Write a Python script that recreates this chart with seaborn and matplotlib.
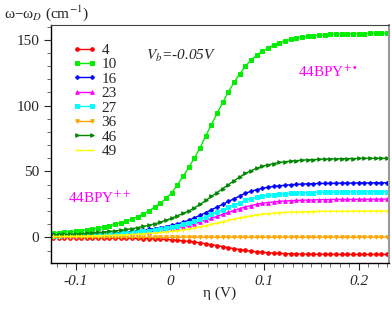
import numpy as np
import pandas as pd
import seaborn as sns
import matplotlib.pyplot as plt
from matplotlib.ticker import MultipleLocator

# overpotential (V)
eta = [-0.124, -0.118, -0.112, -0.106, -0.100, -0.094, -0.088, -0.082, -0.076, -0.070,
       -0.064, -0.058, -0.052, -0.046, -0.040, -0.034, -0.028, -0.022, -0.016, -0.010,
       -0.004, 0.002, 0.008, 0.014, 0.020, 0.026, 0.032, 0.038, 0.044, 0.050,
       0.056, 0.062, 0.068, 0.074, 0.080, 0.086, 0.092, 0.098, 0.104, 0.110,
       0.116, 0.122, 0.128, 0.134, 0.140, 0.146, 0.152, 0.158, 0.164, 0.170,
       0.176, 0.182, 0.188, 0.194, 0.200, 0.206, 0.212, 0.218, 0.224, 0.230]

# frequency shift omega - omega_D (cm^-1) for each mode
s4 = [-0.2, -0.2, -0.2, -0.2, -0.3, -0.3, -0.3, -0.4, -0.4, -0.4,
      -0.5, -0.5, -0.6, -0.6, -0.7, -0.8, -0.9, -1.1, -1.2, -1.4,
      -1.6, -1.9, -2.3, -2.7, -3.1, -3.6, -4.2, -4.9, -5.6, -6.3,
      -7.1, -7.8, -8.6, -9.3, -9.9, -10.5, -11.0, -11.4, -11.7, -12.0,
      -12.2, -12.3, -12.5, -12.6, -12.7, -12.8, -12.8, -12.9, -12.9, -12.9,
      -13.0, -13.0, -13.0, -13.0, -13.0, -13.0, -13.0, -13.0, -13.0, -13.0]
s10 = [3.3, 3.6, 3.9, 4.2, 4.5, 5.1, 5.7, 6.3, 7.1, 8.0,
       8.9, 9.9, 11.1, 12.5, 14.0, 15.8, 17.8, 20.2, 23.0, 26.0,
       29.5, 33.8, 40.0, 46.4, 53.0, 60.2, 68.0, 77.0, 85.6, 94.0,
       102.4, 110.4, 117.6, 124.0, 130.0, 134.5, 138.2, 141.2, 143.6, 146.0,
       147.8, 149.3, 150.2, 151.1, 152.0, 152.6, 153.1, 153.4, 153.7, 154.0,
       154.2, 154.3, 154.4, 154.5, 154.7, 154.7, 154.8, 154.9, 154.9, 155.0]
s16 = [1.4, 1.5, 1.7, 1.8, 1.9, 2.0, 2.2, 2.3, 2.6, 2.8,
       3.0, 3.3, 3.6, 4.0, 4.4, 4.9, 5.4, 6.0, 6.7, 7.4,
       8.2, 9.1, 10.2, 11.5, 13.0, 14.8, 16.7, 18.8, 20.9, 23.0,
       25.1, 27.2, 29.3, 31.4, 33.5, 34.9, 36.2, 37.2, 38.0, 38.6,
       39.1, 39.5, 39.9, 40.2, 40.4, 40.6, 40.7, 40.9, 40.9, 41.0,
       41.1, 41.1, 41.2, 41.2, 41.3, 41.3, 41.3, 41.4, 41.4, 41.4]
s23 = [0.9, 1.0, 1.1, 1.2, 1.3, 1.4, 1.5, 1.7, 1.8, 2.0,
       2.2, 2.4, 2.6, 2.9, 3.1, 3.5, 3.8, 4.3, 4.7, 5.2,
       5.8, 6.5, 7.2, 8.1, 9.1, 10.3, 11.6, 12.9, 14.4, 15.9,
       17.5, 19.0, 20.4, 21.8, 23.1, 24.1, 25.1, 25.8, 26.4, 26.9,
       27.3, 27.6, 27.8, 28.0, 28.2, 28.3, 28.4, 28.6, 28.6, 28.7,
       28.8, 28.8, 28.8, 28.8, 28.9, 28.9, 28.9, 29.0, 29.0, 29.0]
s27 = [1.1, 1.2, 1.4, 1.5, 1.6, 1.7, 1.8, 2.0, 2.2, 2.4,
       2.6, 2.9, 3.1, 3.4, 3.8, 4.2, 4.6, 5.1, 5.7, 6.3,
       7.0, 7.8, 8.7, 9.8, 11.0, 12.5, 14.0, 15.7, 17.5, 19.3,
       21.1, 22.9, 24.6, 26.3, 28.0, 29.2, 30.3, 31.2, 31.9, 32.4,
       32.8, 33.1, 33.4, 33.6, 33.8, 33.9, 34.0, 34.2, 34.2, 34.3,
       34.4, 34.4, 34.5, 34.5, 34.5, 34.6, 34.6, 34.6, 34.6, 34.6]
s36 = [0.0, 0.0, 0.0, 0.0, 0.0, 0.0, 0.0, 0.0, 0.0, 0.0,
       0.0, 0.0, 0.0, 0.0, 0.0, 0.0, 0.0, 0.0, 0.0, 0.0,
       0.0, 0.0, 0.0, 0.1, 0.1, 0.1, 0.1, 0.1, 0.1, 0.1,
       0.1, 0.1, 0.1, 0.1, 0.1, 0.1, 0.1, 0.1, 0.1, 0.1,
       0.1, 0.1, 0.1, 0.1, 0.1, 0.1, 0.1, 0.1, 0.1, 0.1,
       0.1, 0.1, 0.1, 0.1, 0.1, 0.1, 0.1, 0.1, 0.1, 0.1]
s46 = [1.9, 2.1, 2.2, 2.4, 2.6, 2.8, 3.1, 3.4, 3.7, 4.0,
       4.5, 4.9, 5.4, 6.0, 6.6, 7.4, 8.3, 9.2, 10.3, 11.5,
       13.0, 14.6, 16.4, 18.2, 20.0, 22.4, 25.0, 28.0, 31.0, 34.0,
       37.0, 40.0, 43.0, 45.8, 48.5, 50.6, 52.5, 54.0, 55.1, 56.0,
       56.8, 57.4, 57.9, 58.2, 58.6, 58.8, 59.0, 59.2, 59.4, 59.5,
       59.6, 59.7, 59.8, 59.8, 59.9, 59.9, 60.0, 60.0, 60.0, 60.0]
s49 = [0.7, 0.7, 0.8, 0.8, 0.9, 1.0, 1.0, 1.2, 1.3, 1.4,
       1.5, 1.7, 1.8, 2.0, 2.2, 2.4, 2.7, 3.0, 3.3, 3.7,
       4.1, 4.6, 5.1, 5.7, 6.4, 7.2, 8.0, 8.9, 9.9, 10.9,
       11.9, 12.9, 13.9, 14.8, 15.7, 16.4, 17.1, 17.6, 18.0, 18.4,
       18.7, 19.0, 19.1, 19.3, 19.4, 19.5, 19.6, 19.7, 19.7, 19.8,
       19.8, 19.8, 19.9, 19.9, 19.9, 19.9, 20.0, 20.0, 20.0, 20.0]

modes = ['4', '10', '16', '23', '27', '36', '46', '49']
series = [s4, s10, s16, s23, s27, s36, s46, s49]
colors = ['#ff0000', '#00ee00', '#0000ff', '#ff00ff', '#00ffff', '#ffa500', '#008800', '#ffff00']
markers = ['o', 's', 'P', '^', 's', 'v', '>', '+']

df = pd.DataFrame({'eta': eta})
for m, s in zip(modes, series):
    df[m] = s
long_df = df.melt(id_vars='eta', var_name='mode', value_name='shift')

sns.set_style('white')
plt.rcParams['font.family'] = ['Liberation Serif', 'DejaVu Serif']
plt.rcParams['mathtext.fontset'] = 'stix'

fig = plt.figure(figsize=(3.92, 3.15), dpi=100)
ax = fig.add_axes([0.13, 0.165, 0.862, 0.755])

for m, c, mk in zip(modes, colors, markers):
    sub = long_df[long_df['mode'] == m]
    sns.lineplot(data=sub, x='eta', y='shift', color=c, marker=mk,
                 markersize=2.6, markeredgewidth=0.7, markeredgecolor=c,
                 linewidth=1.0, label=m, ax=ax)

ax.set_xlim(-0.126, 0.232)
ax.set_ylim(-19.5, 161)
ax.xaxis.set_major_locator(MultipleLocator(0.1))
ax.xaxis.set_minor_locator(MultipleLocator(0.01))
ax.yaxis.set_major_locator(MultipleLocator(50))
ax.yaxis.set_minor_locator(MultipleLocator(10))
ax.tick_params(axis='both', which='major', direction='out', length=5, width=0.8,
               labelsize=11, bottom=True, left=True, top=False, right=False)
ax.tick_params(axis='both', which='minor', direction='out', length=3, width=0.6,
               bottom=True, left=True, top=False, right=False, color='#555555')
ax.set_xticks([-0.1, 0, 0.1, 0.2])
ax.set_xticklabels(['-0.1', '0', '0.1', '0.2'], style='italic')
for sp in ['left', 'bottom']:
    ax.spines[sp].set_color('black')
    ax.spines[sp].set_linewidth(1.0)
ax.spines['top'].set_color('#444444')
ax.spines['right'].set_color('#999999')
ax.spines['right'].set_linewidth(1.5)

ax.set_xlabel('η (V)', fontsize=11, labelpad=-1)
ax.set_ylabel('')
fig.text(0.01, 0.957, r'ω−ω$_D$ (cm$^{-1}$)', fontsize=11, ha='left', va='center')

ax.text(0.28, 0.87, r'$V_b$=-0.05V', transform=ax.transAxes, fontsize=11,
        style='italic', ha='left', va='center')
ax.text(0.73, 0.80, r'44BPY$^{+\bullet}$', transform=ax.transAxes, fontsize=11,
        color='#ff00ff', ha='left', va='center')
ax.text(0.05, 0.27, r'44BPY$^{++}$', transform=ax.transAxes, fontsize=11,
        color='#ff00ff', ha='left', va='center')

leg = ax.legend(loc='upper left', bbox_to_anchor=(0.045, 0.95), frameon=False,
                fontsize=11, numpoints=2, handlelength=1.6, handletextpad=0.3,
                labelspacing=0.05, borderaxespad=0)

fig.savefig('out.png', dpi=100)
